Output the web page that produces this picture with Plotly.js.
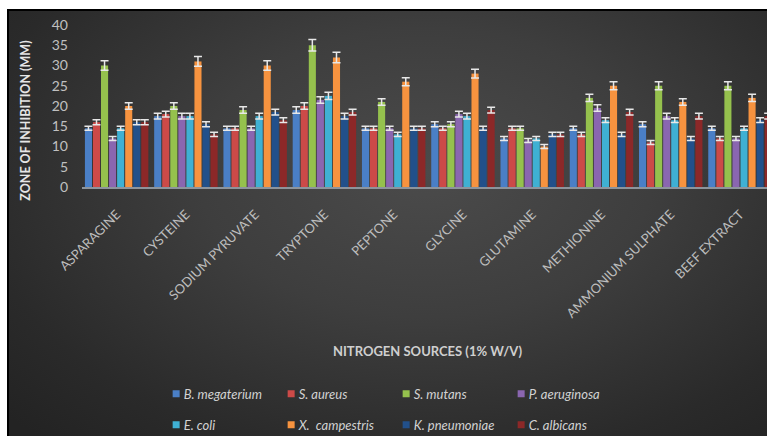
<!DOCTYPE html>
<html>
<head>
<meta charset="utf-8">
<script src="https://cdn.plot.ly/plotly-3.0.1.min.js"></script>
<style>
  html, body { margin: 0; padding: 0; background: #ffffff; }
  #wrap { position: relative; width: 767px; height: 436px; overflow: hidden; }
  #frame {
    position: absolute; left: 7px; top: 9px; right: 0; bottom: 0;
    border-left: 2px solid #000; border-top: 2px solid #000;
    background: radial-gradient(ellipse 75% 85% at 55% 38%, #4b4b4b 0%, #3e3e3e 40%, #2a2a2a 80%, #232323 100%);
  }
  #chart { position: absolute; left: 0; top: 0; width: 767px; height: 436px; }
</style>
</head>
<body>
<div id="wrap">
  <div id="frame"></div>
  <div id="chart"></div>
</div>
<script>
// Nitrogen sources tested (1% w/v)
const categories = ['ASPARAGINE', 'CYSTEINE', 'SODIUM PYRUVATE', 'TRYPTONE', 'PEPTONE',
                    'GLYCINE', 'GLUTAMINE', 'METHIONINE', 'AMMONIUM SULPHATE', 'BEEF EXTRACT'];

const seriesNames = ['B. megaterium', 'S. aureus', 'S. mutans', 'P. aeruginosa',
                     'E. coli', 'X.  campestris', 'K. pneumoniae', 'C. albicans'];

// Zone of inhibition (mm) for each organism
const bMegaterium  = [14.5, 17.5, 14.5, 19,   14.5, 15.5, 12,   14.5, 15.5, 14.5];
const sAureus      = [16,   18,   14.5, 20,   14.5, 14.5, 14.5, 13,   11,   12];
const sMutans      = [30,   20,   19,   35,   21,   15.5, 14.5, 22,   25,   25];
const pAeruginosa  = [12,   17.5, 14.5, 21.5, 14.5, 18,   11.5, 19.5, 17.5, 12];
const eColi        = [14.5, 17.5, 17.5, 22.5, 13,   17.5, 12,   16.5, 16.5, 14.5];
const xCampestris  = [20,   31,   30,   32,   26,   28,   10,   25,   21,   22];
const kPneumoniae  = [16,   15.5, 18.5, 17.5, 14.5, 14.5, 13,   13,   12,   16.5];
const cAlbicans    = [16,   13,   16.5, 18.5, 14.5, 19,   13,   18.5, 17.5, 17.5];

// Standard deviations (mm)
const bMegateriumErr = [0.5, 0.7, 0.5, 0.8, 0.5, 0.6, 0.5, 0.5, 0.6, 0.5];
const sAureusErr     = [0.6, 0.7, 0.5, 0.8, 0.5, 0.5, 0.5, 0.5, 0.5, 0.5];
const sMutansErr     = [1.2, 0.8, 0.8, 1.4, 0.8, 0.6, 0.5, 0.9, 1.0, 1.0];
const pAeruginosaErr = [0.5, 0.7, 0.5, 0.8, 0.5, 0.7, 0.5, 0.8, 0.7, 0.5];
const eColiErr       = [0.5, 0.7, 0.7, 0.9, 0.5, 0.7, 0.5, 0.6, 0.6, 0.5];
const xCampestrisErr = [0.8, 1.2, 1.2, 1.3, 1.0, 1.1, 0.5, 1.0, 0.8, 0.9];
const kPneumoniaeErr = [0.6, 0.6, 0.7, 0.7, 0.5, 0.5, 0.5, 0.5, 0.5, 0.6];
const cAlbicansErr   = [0.6, 0.5, 0.6, 0.7, 0.5, 0.7, 0.5, 0.7, 0.7, 0.7];

const yTickVals = [0, 5, 10, 15, 20, 25, 30, 35, 40];

const seriesValues = [bMegaterium, sAureus, sMutans, pAeruginosa, eColi, xCampestris, kPneumoniae, cAlbicans];
const seriesErrors = [bMegateriumErr, sAureusErr, sMutansErr, pAeruginosaErr, eColiErr, xCampestrisErr, kPneumoniaeErr, cAlbicansErr];
const seriesColors = ['#4a7fc6', '#cc4a48', '#95c14d', '#8a66b0', '#3fb0d3', '#f7933f', '#22508a', '#8c2828'];

const FONT = 'Lato, "Open Sans", "DejaVu Sans", sans-serif';

const traces = seriesNames.map((name, i) => ({
  type: 'bar',
  name: name,
  x: categories,
  y: seriesValues[i],
  marker: { color: seriesColors[i], line: { width: 0 } },
  error_y: { type: 'data', array: seriesErrors[i], visible: true,
             color: '#e8e8e8', thickness: 1.5, width: 4 },
  legend: i < 4 ? 'legend' : 'legend2',
  hoverinfo: 'x+y+name'
}));

const legendStyle = {
  orientation: 'h',
  xanchor: 'left', yanchor: 'middle',
  bgcolor: 'rgba(0,0,0,0)',
  font: { family: FONT, size: 13, color: '#d2d2d2', style: 'italic' },
  entrywidth: 70, entrywidthmode: 'pixels',
  itemclick: false, itemdoubleclick: false,
  traceorder: 'normal'
};

const layout = {
  width: 767, height: 436,
  margin: { l: 81.5, r: 0, t: 25, b: 249.3, autoexpand: false },
  paper_bgcolor: 'rgba(0,0,0,0)',
  plot_bgcolor: 'rgba(0,0,0,0)',
  barmode: 'group',
  bargap: 0.07,
  bargroupgap: 0.12,
  showlegend: true,
  xaxis: {
    type: 'category',
    range: [-0.5, 9.39],
    showgrid: false, zeroline: false,
    showline: true, linecolor: '#8d949c', linewidth: 1.5,
    ticks: '',
    tickangle: -45,
    ticklabelstandoff: 13,
    tickfont: { family: FONT, size: 13, color: '#bdbdbd' }
  },
  yaxis: {
    range: [0, 40],
    tickvals: yTickVals,
    showgrid: false, zeroline: false, showline: false,
    ticks: '',
    ticklabelstandoff: 13,
    tickfont: { family: FONT, size: 14, color: '#c0c0c0' }
  },
  legend: Object.assign({}, legendStyle, { x: 0.09, y: -1.276 }),
  legend2: Object.assign({}, legendStyle, { x: 0.09, y: -1.468 }),
  annotations: [
    {
      text: '<b>ZONE OF INHIBITION (MM)</b>',
      xref: 'paper', yref: 'paper',
      x: -0.083, y: 0.41, xanchor: 'center', yanchor: 'middle',
      textangle: -90, showarrow: false,
      font: { family: FONT, size: 12.5, color: '#e6e6e6' }
    },
    {
      text: '<b>NITROGEN SOURCES (1% W/V)</b>',
      xref: 'paper', yref: 'paper',
      x: 0.505, y: -1.01, xanchor: 'center', yanchor: 'middle',
      showarrow: false,
      font: { family: FONT, size: 13, color: '#cfcfcf' }
    }
  ]
};

// Small square legend keys placed close to their labels (both legend rows)
function tightenLegendKeys(gd) {
  gd.querySelectorAll('g.legendpoints').forEach(g => {
    const t = g.getAttribute('transform') || '';
    g.setAttribute('transform', t + ' translate(12.5,0)');
    g.querySelectorAll('path').forEach(p => p.setAttribute('d', 'M3.5,3.5H-3.5V-3.5H3.5Z'));
  });
}

Plotly.newPlot('chart', traces, layout, { displayModeBar: false })
  .then(gd => tightenLegendKeys(gd));
</script>
</body>
</html>
